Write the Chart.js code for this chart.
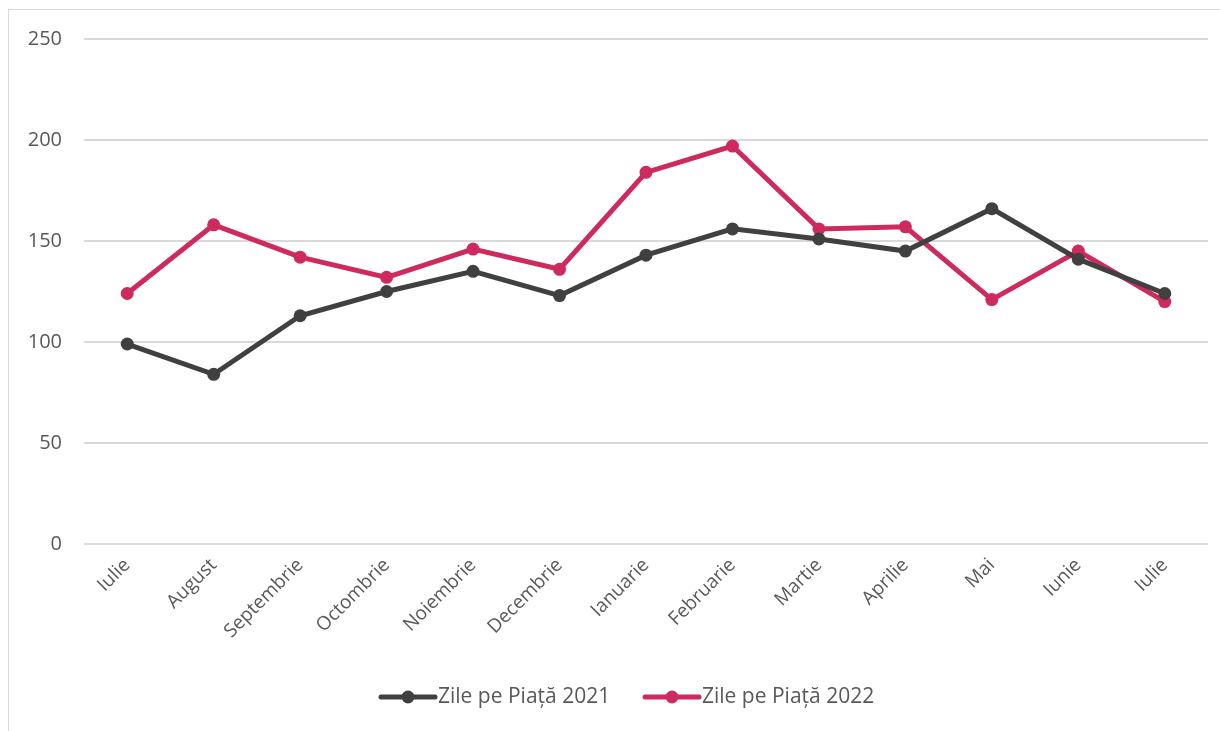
<!DOCTYPE html>
<html lang="ro">
<head>
    <meta charset="UTF-8">
    <title>Zile pe Piață</title>
    <style>
        body {
            margin: 0;
            background-color: #fff;
            overflow: hidden;
        }
        #frame {
            position: absolute;
            left: 8px;
            top: 9px;
            width: 1300px;
            height: 800px;
            border: 1px solid #d9d9d9;
        }
        #chart-container {
            position: absolute;
            left: 0;
            top: 0;
            width: 1220px;
            height: 731px;
        }
    </style>
</head>
<body>
    <div id="frame"></div>
    <div id="chart-container">
        <canvas id="days-chart" width="1220" height="731"></canvas>
    </div>

    <script src="https://cdn.jsdelivr.net/npm/chart.js"></script>
    <script>
        const months = ['Iulie', 'August', 'Septembrie', 'Octombrie', 'Noiembrie', 'Decembrie',
            'Ianuarie', 'Februarie', 'Martie', 'Aprilie', 'Mai', 'Iunie', 'Iulie'];
        const days2021 = [99, 84, 113, 125, 135, 123, 143, 156, 151, 145, 166, 141, 124];
        const days2022 = [124, 158, 142, 132, 146, 136, 184, 197, 156, 157, 121, 145, 120];
        const yTicks = [0, 50, 100, 150, 200, 250];

        const textColor = '#595959';
        const fontFamily = '"Open Sans", sans-serif';

        // legend drawn by hand so it sits where the original one is
        const legendPlugin = {
            id: 'bottomLegend',
            afterDraw(chart) {
                const ctx = chart.ctx;
                const items = [
                    { ds: chart.data.datasets[0], x: 381 },
                    { ds: chart.data.datasets[1], x: 645 }
                ];
                const y = 697;
                ctx.save();
                items.forEach(item => {
                    ctx.strokeStyle = item.ds.borderColor;
                    ctx.lineWidth = 5;
                    ctx.lineCap = 'round';
                    ctx.beginPath();
                    ctx.moveTo(item.x, y);
                    ctx.lineTo(item.x + 54, y);
                    ctx.stroke();
                    ctx.fillStyle = item.ds.borderColor;
                    ctx.beginPath();
                    ctx.arc(item.x + 27, y, 6.5, 0, Math.PI * 2);
                    ctx.fill();
                    ctx.fillStyle = textColor;
                    ctx.font = '21px ' + fontFamily;
                    ctx.textBaseline = 'middle';
                    ctx.textAlign = 'left';
                    ctx.fillText(item.ds.label, item.x + 57, y);
                });
                ctx.restore();
            }
        };

        const ctx = document.getElementById('days-chart').getContext('2d');
        const daysChart = new Chart(ctx, {
            type: 'line',
            data: {
                labels: months,
                datasets: [{
                    label: 'Zile pe Piață 2021',
                    data: days2021,
                    borderColor: '#404040',
                    backgroundColor: '#404040',
                    borderWidth: 5,
                    pointRadius: 6.5,
                    pointBorderWidth: 0,
                    tension: 0
                }, {
                    label: 'Zile pe Piață 2022',
                    data: days2022,
                    borderColor: '#cf2a5e',
                    backgroundColor: '#cf2a5e',
                    borderWidth: 5,
                    pointRadius: 6.5,
                    pointBorderWidth: 0,
                    tension: 0
                }]
            },
            options: {
                responsive: false,
                animation: false,
                layout: {
                    padding: { top: 39, right: 12, bottom: 67, left: 0 }
                },
                plugins: {
                    legend: { display: false },
                    tooltip: { enabled: false }
                },
                scales: {
                    x: {
                        offset: true,
                        grid: { display: false, drawTicks: false },
                        border: { display: false },
                        ticks: {
                            color: textColor,
                            font: { family: fontFamily, size: 19 },
                            minRotation: 45,
                            maxRotation: 45,
                            autoSkip: false,
                            padding: 10
                        },
                        afterFit(scale) { scale.height = 120; }
                    },
                    y: {
                        min: 0,
                        max: 250,
                        afterBuildTicks(scale) {
                            scale.ticks = yTicks.map(v => ({ value: v }));
                        },
                        grid: { color: '#d9d9d9', lineWidth: 2, drawTicks: false },
                        border: { display: false },
                        ticks: {
                            color: textColor,
                            font: { family: fontFamily, size: 20 },
                            padding: 22
                        },
                        afterFit(scale) { scale.width = 84; }
                    }
                }
            },
            plugins: [legendPlugin]
        });
    </script>
</body>
</html>
